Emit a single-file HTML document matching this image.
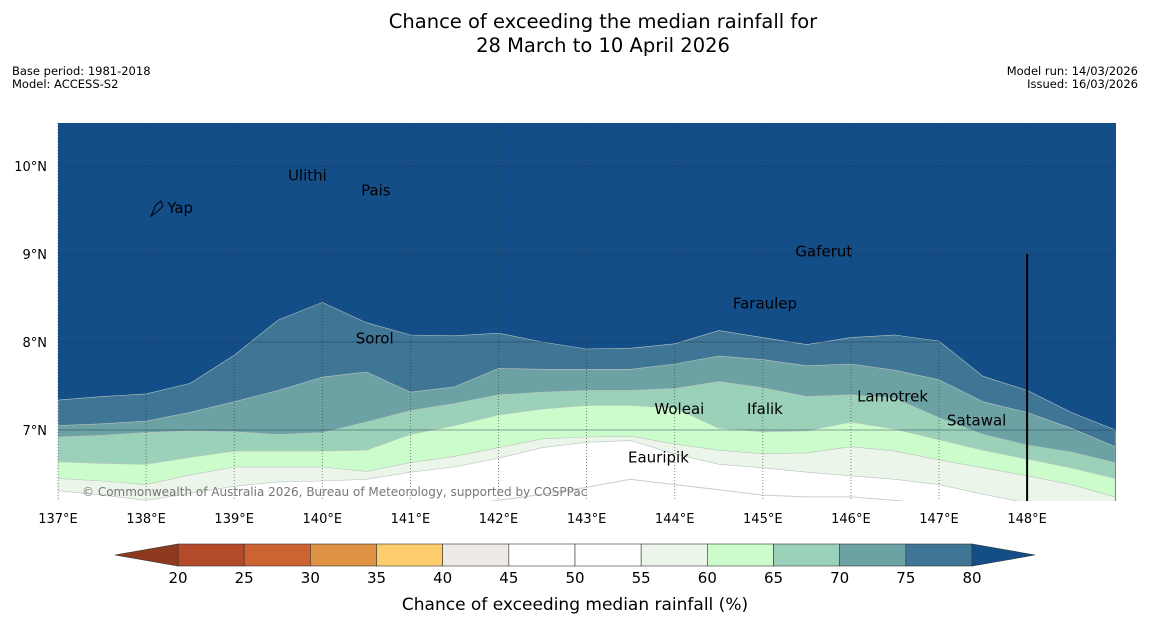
<!DOCTYPE html>
<html><head><meta charset="utf-8"><style>
body{margin:0;background:#fff;font-family:"Liberation Sans","DejaVu Sans",sans-serif;}
svg{display:block}
</style></head><body>
<svg id="chart" width="1150" height="644" viewBox="0 0 1150 644" font-family="DejaVu Sans, Liberation Sans, sans-serif">
<rect width="1150" height="644" fill="#fff"/>
<text x="603" y="28" font-size="19.5" text-anchor="middle">Chance of exceeding the median rainfall for</text>
<text x="603" y="52" font-size="19.5" text-anchor="middle">28 March to 10 April 2026</text>
<text x="12" y="75" font-size="11.5">Base period: 1981-2018</text>
<text x="12" y="88" font-size="11.5">Model: ACCESS-S2</text>
<text x="1138" y="75" font-size="11.5" text-anchor="end">Model run: 14/03/2026</text>
<text x="1138" y="88" font-size="11.5" text-anchor="end">Issued: 16/03/2026</text>
<defs><clipPath id="pc"><rect x="58" y="123" width="1058" height="378"/></clipPath></defs>
<g id="map" clip-path="url(#pc)"></g>
<g id="axes"></g>
<g id="cbar"></g>
</svg>
<script>
const lons=[137,137.5,138,138.5,139,139.5,140,140.5,141,141.5,142,142.5,143,143.5,144,144.5,145,145.5,146,146.5,147,147.5,148,148.5,149];
const b80=[7.34,7.38,7.41,7.53,7.85,8.25,8.45,8.22,8.08,8.07,8.10,8.00,7.92,7.93,7.98,8.13,8.05,7.97,8.05,8.08,8.01,7.61,7.45,7.20,7.00];
const b75=[7.05,7.07,7.10,7.20,7.32,7.45,7.60,7.66,7.43,7.49,7.70,7.69,7.69,7.69,7.75,7.84,7.80,7.73,7.75,7.68,7.57,7.32,7.20,7.02,6.81];
const b70=[6.92,6.94,6.97,6.99,6.98,6.95,6.97,7.09,7.22,7.30,7.40,7.43,7.45,7.45,7.47,7.55,7.48,7.38,7.40,7.36,7.14,6.95,6.83,6.75,6.63];
const b65=[6.64,6.62,6.61,6.69,6.76,6.76,6.76,6.77,6.95,7.05,7.17,7.24,7.28,7.28,7.25,7.02,6.98,6.99,7.09,7.01,6.89,6.77,6.67,6.57,6.45];
const b60=[6.45,6.42,6.38,6.49,6.58,6.58,6.58,6.53,6.63,6.70,6.80,6.90,6.92,6.93,6.84,6.77,6.73,6.74,6.81,6.76,6.66,6.57,6.48,6.38,6.24];
const b55=[6.31,6.26,6.20,6.28,6.36,6.41,6.42,6.44,6.52,6.58,6.68,6.80,6.86,6.88,6.73,6.61,6.57,6.52,6.48,6.44,6.38,6.27,6.17,6.09,6.03];
const b50=[5.9,5.9,5.9,5.95,6.0,6.02,6.04,6.06,6.08,6.14,6.20,6.27,6.35,6.44,6.38,6.32,6.26,6.24,6.24,6.20,6.15,6.05,5.95,5.9,5.9];
const lonTicks=[137,138,139,140,141,142,143,144,145,146,147,148];
const latTicks=[7,8,9,10];
const cbTicks=[20,25,30,35,40,45,50,55,60,65,70,75,80];
const cbColors=["#b34a2a","#cc6331","#e09244","#fdcc6b","#ede9e5","#ffffff","#ffffff","#ebf5ea","#ccfccc","#9bd0b9","#6ca2a4","#3f7595"];
const places=["Ulithi","Pais","Yap","Gaferut","Faraulep","Sorol","Lamotrek","Woleai","Ifalik","Satawal","Eauripik"];
const placeLon=[139.61,140.44,138.24,145.37,144.66,140.38,146.07,143.77,144.82,147.09,143.47];
const placeLat=[9.89,9.72,9.52,9.03,8.44,8.04,7.38,7.24,7.24,7.11,6.69];
const NS="http://www.w3.org/2000/svg";
const X=lon=>58+(lon-137)*88.1;
const Y=lat=>166+(10-lat)*88;
function mk(tag,attrs,parent){const e=document.createElementNS(NS,tag);for(const k in attrs)e.setAttribute(k,attrs[k]);parent.appendChild(e);return e;}
const map=document.getElementById('map');
const bg=mk('rect',{x:58,y:123,width:1058,height:378,fill:'#134e89'},map);


const bands=[[b80,'#3f7595','band-75-80'],[b75,'#6ca2a4','band-70-75'],[b70,'#9bd0b9','band-65-70'],[b65,'#ccfccc','band-60-65'],[b60,'#ebf5ea','band-55-60'],[b55,'#ffffff','band-50-55']];
bands.forEach(([b,c,n])=>{
 let d='M'+X(lons[0])+','+Y(b[0]);
 for(let i=1;i<lons.length;i++)d+='L'+X(lons[i]).toFixed(1)+','+Y(b[i]).toFixed(1);
 d+='L'+X(149)+',520L'+X(137)+',520Z';
 const p=mk('path',{d:d,fill:c,stroke:'#b8c4bf','stroke-width':0.6},map);
 
 
});
{let d='M'+X(lons[0])+','+Y(b50[0]);for(let i=1;i<lons.length;i++)d+='L'+X(lons[i]).toFixed(1)+','+Y(b50[i]).toFixed(1);
 const p=mk('path',{d:d,fill:'none',stroke:'#cccccc','stroke-width':1},map);
 
 }
const ax=document.getElementById('axes');
lonTicks.forEach(l=>{
 const g=mk('line',{x1:X(l),x2:X(l),y1:123,y2:501,stroke:'#333','stroke-width':0.8,'stroke-dasharray':'1,2',opacity:0.7},ax);
 
 
 const t=mk('text',{x:X(l),y:523,'font-size':13,'text-anchor':'middle'},ax);t.textContent=l+'°E';
 
 
});
latTicks.forEach(l=>{
 const g=mk('line',{x1:58,x2:1116,y1:Y(l),y2:Y(l),stroke:'#1c3550','stroke-width':0.8,opacity:0.6},ax);
 
 
 const t=mk('text',{x:47,y:Y(l)+5,'font-size':13,'text-anchor':'end'},ax);t.textContent=l+'°N';
 
 
});
const bl=mk('line',{x1:X(148),x2:X(148),y1:Y(9),y2:501,stroke:'#000','stroke-width':2},ax);


const yap=mk('path',{d:'M151,216 L156,205 L161,201 L163,206 L158,211 Z',fill:'none',stroke:'#000','stroke-width':1},ax);


places.forEach((n,i)=>{
 const t=mk('text',{x:X(placeLon[i]),y:Y(placeLat[i])+5,'font-size':15,fill:'#000'},ax);t.textContent=n;
 
 
});
const cp=mk('text',{x:82,y:496,'font-size':12,fill:'#777'},ax);cp.textContent='© Commonwealth of Australia 2026, Bureau of Meteorology, supported by COSPPac';


const cb=document.getElementById('cbar');
const cx=v=>178+(v-20)*(972-178)/60;
cbColors.forEach((c,i)=>{
 const r=mk('rect',{x:cx(cbTicks[i]),y:544,width:cx(cbTicks[i+1])-cx(cbTicks[i]),height:22,fill:c,stroke:'#333','stroke-width':0.6},cb);
 
 
});
const lt=mk('polygon',{points:'115,555 178,544 178,566',fill:'#8e3a21',stroke:'#333','stroke-width':0.6},cb);


const rt=mk('polygon',{points:'1035,555 972,544 972,566',fill:'#134e89',stroke:'#333','stroke-width':0.6},cb);


cbTicks.forEach(v=>{
 const t=mk('text',{x:cx(v),y:583,'font-size':15,'text-anchor':'middle'},cb);t.textContent=v;
 
 
});
const ct=mk('text',{x:575,y:610,'font-size':17,'text-anchor':'middle'},cb);ct.textContent='Chance of exceeding median rainfall (%)';


</script>
</body></html>
